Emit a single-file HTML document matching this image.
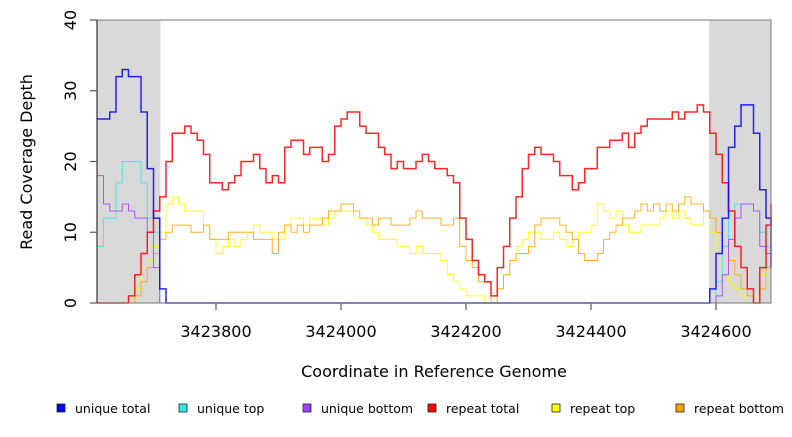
<!DOCTYPE html>
<html><head><meta charset="utf-8"><style>
body{margin:0;background:#fff;font-family:"Liberation Sans","DejaVu Sans",sans-serif}
svg text{font-family:"DejaVu Sans","Liberation Sans",sans-serif}
</style></head><body>
<svg id="chart" width="792" height="432" viewBox="0 0 792 432">
<g id="bg"></g><g id="marks"></g><g id="axes"></g>
<text x="32" y="162" font-size="16" text-anchor="middle" transform="rotate(-90 32 162)">Read Coverage Depth</text>
<text x="434" y="377" font-size="16" text-anchor="middle">Coordinate in Reference Genome</text>
<g id="legend"></g>
</svg>
<script>
const xStart = 3423610, xStep = 10, xEnd = 3424688;
const xTicks = [3423800, 3424000, 3424200, 3424400, 3424600];
const yTicks = [0, 10, 20, 30, 40];
const shadedRegions = [[3423609.6, 3423711], [3424589, 3424688]];
const uniqueTotal = [26,26,27,32,33,32,32,27,19,12, 2,0,0,0,0,0,0,0,0,0, 0,0,0,0,0,0,0,0,0,0, 0,0,0,0,0,0,0,0,0,0, 0,0,0,0,0,0,0,0,0,0, 0,0,0,0,0,0,0,0,0,0, 0,0,0,0,0,0,0,0,0,0, 0,0,0,0,0,0,0,0,0,0, 0,0,0,0,0,0,0,0,0,0, 0,0,0,0,0,0,0,0,2,7, 12,22,25,28,28,24,16,12,5];
const uniqueTop = [8,12,12,17,20,20,20,17,12,10, 0,0,0,0,0,0,0,0,0,0, 0,0,0,0,0,0,0,0,0,0, 0,0,0,0,0,0,0,0,0,0, 0,0,0,0,0,0,0,0,0,0, 0,0,0,0,0,0,0,0,0,0, 0,0,0,0,0,0,0,0,0,0, 0,0,0,0,0,0,0,0,0,0, 0,0,0,0,0,0,0,0,0,0, 0,0,0,0,0,0,0,0,0,3, 8,13,14,14,14,13,10,8,3];
const uniqueBottom = [18,14,13,13,14,13,12,12,10,5, 0,0,0,0,0,0,0,0,0,0, 0,0,0,0,0,0,0,0,0,0, 0,0,0,0,0,0,0,0,0,0, 0,0,0,0,0,0,0,0,0,0, 0,0,0,0,0,0,0,0,0,0, 0,0,0,0,0,0,0,0,0,0, 0,0,0,0,0,0,0,0,0,0, 0,0,0,0,0,0,0,0,0,0, 0,0,0,0,0,0,0,0,0,1, 4,9,12,14,14,13,8,7,4];
const repeatTotal = [0,0,0,0,0,1,4,7,10,13, 15,20,24,24,25,24,23,21,17,17, 16,17,18,20,20,21,19,17,18,17, 22,23,23,21,22,22,20,21,25,26, 27,27,25,24,24,22,21,19,20,19, 19,20,21,20,19,19,18,17,12,9, 6,4,3,1,5,8,12,15,19,21, 22,21,21,20,18,18,16,17,19,19, 22,22,23,23,24,22,24,25,26,26, 26,26,27,26,27,27,28,27,24,21, 17,13,8,5,2,0,5,11,14];
const repeatTop = [0,0,0,0,0,0,2,5,6,8, 10,14,15,14,13,13,13,11,9,7, 8,9,8,9,10,11,10,10,9,9, 11,12,12,11,12,12,11,12,13,13, 13,12,12,11,10,9,9,9,8,8, 7,8,7,7,7,6,4,3,2,1, 1,1,0,0,2,4,6,8,9,10, 10,9,9,10,9,8,9,10,10,11, 14,13,12,13,11,10,10,11,11,11, 12,13,12,13,12,11,11,13,10,7, 5,3,2,1,0,1,4,7,8];
const repeatBottom = [0,0,0,0,0,0,1,3,5,7, 9,10,11,11,11,10,10,11,9,9, 9,10,10,10,10,9,9,9,7,10, 11,10,11,10,11,11,12,13,13,14, 14,13,12,12,11,12,12,11,11,11, 12,13,12,12,12,11,11,12,8,6, 5,3,3,0,2,4,6,7,7,8, 11,12,12,12,11,10,9,7,6,6, 7,9,10,11,12,12,13,14,13,14, 13,14,13,14,15,14,14,13,12,10, 8,6,4,2,1,0,2,5,5];
const seriesNames = ["unique total","unique top","unique bottom","repeat total","repeat top","repeat bottom"];
const seriesColors = ["#0000ff","#33e8e8","#a040ff","#ff0000","#ffff00","#ffa500"];

const NS="http://www.w3.org/2000/svg";
const L=97,R=771,T=20,B=303;
const xMin=3423609.6,xMax=3424688;
const xs=v=>L+(v-xMin)/(xMax-xMin)*(R-L);
const ys=v=>B-v/40*(B-T);
function mk(tag,attrs,parent){const e=document.createElementNS(NS,tag);for(const k in attrs)e.setAttribute(k,attrs[k]);parent.appendChild(e);return e;}
const coords=[];for(let c=xStart;c<xEnd;c+=xStep)coords.push(c);coords.push(xEnd);

const bg=document.getElementById('bg');
shadedRegions.forEach((r,i)=>{
  const e=mk('rect',{x:xs(r[0]),y:T,width:xs(r[1])-xs(r[0]),height:B-T,fill:'#d9d9d9'},bg);
  
  
});

const marks=document.getElementById('marks');
const allSeries=[uniqueTotal,uniqueTop,uniqueBottom,repeatTotal,repeatTop,repeatBottom];
const widths=[1.5,1,1,1.5,1,1];
const order=[4,5,1,2,3,0];
order.forEach(i=>{
  const d=allSeries[i];let p='';
  d.forEach((v,j)=>{const x=xs(coords[j]),y=ys(v);
    if(j===0)p+='M'+x+' '+y;else p+='H'+x+'V'+y;});
  p+='H'+xs(xMax);
  const e=mk('path',{d:p,fill:'none',stroke:seriesColors[i],'stroke-width':widths[i],'stroke-opacity':0.85},marks);
  
  
});

const ax=document.getElementById('axes');
const frame=mk('rect',{x:L,y:T,width:R-L,height:B-T,fill:'none',stroke:'#777','stroke-width':1},ax);


mk('line',{x1:L,y1:T,x2:L,y2:B,stroke:'#333','stroke-width':1.2},ax);
xTicks.forEach(t=>{
  const x=xs(t);
  mk('line',{x1:x,y1:B,x2:x,y2:B+7,stroke:'#777','stroke-width':1.5},ax);
  const tx=mk('text',{x:x,y:337,'font-size':16,'text-anchor':'middle'},ax);
  tx.textContent=t;
  
  
});
yTicks.forEach(t=>{
  const y=ys(t);
  mk('line',{x1:L-7,y1:y,x2:L,y2:y,stroke:'#555','stroke-width':1.2},ax);
  const tx=mk('text',{x:76,y:y,'font-size':16,'text-anchor':'middle',transform:'rotate(-90 76 '+y+')'},ax);
  tx.textContent=t;
  
  
});

const lg=document.getElementById('legend');
const lgX=[57,179,303,428,552,676];
seriesNames.forEach((n,i)=>{
  const g=mk('g',{},lg);
  
  
  mk('rect',{x:lgX[i],y:404,width:8,height:8,fill:seriesColors[i],stroke:'#222','stroke-width':0.8},g);
  const t=mk('text',{x:lgX[i]+18,y:413,'font-size':12.5},g);
  t.textContent=n;
});
</script>
</body></html>
